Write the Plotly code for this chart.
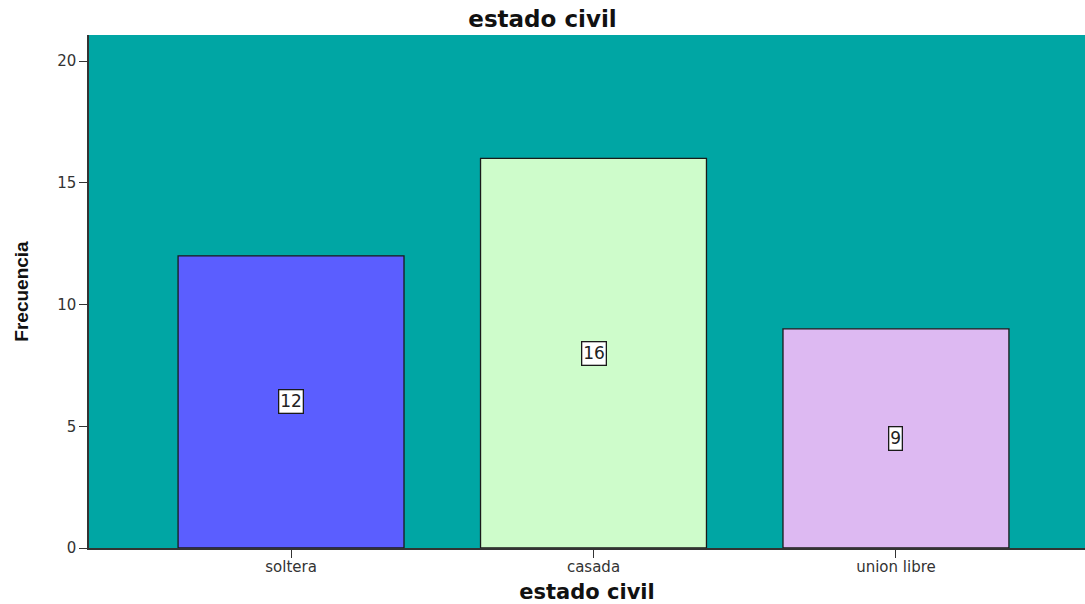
import plotly.graph_objects as go

categories = ["soltera", "casada", "union libre"]
counts = [12, 16, 9]
bar_colors = ["#5B5EFF", "#CEFCCB", "#DDB9F2"]
y_ticks = [0, 5, 10, 15, 20]

TICKFONT = dict(family="DejaVu Sans, Verdana, Arial", size=15, color="#333333")

fig = go.Figure()
fig.add_trace(go.Bar(
    x=categories, y=counts, width=0.747,
    marker=dict(color=bar_colors, line=dict(color="#1a1a1a", width=1.3)),
    hoverinfo="x+y", showlegend=False,
))

for c, v in zip(categories, counts):
    fig.add_annotation(
        x=c, y=v / 2, text=str(v), showarrow=False,
        font=dict(family="DejaVu Sans, Verdana, Arial", size=17, color="#222222"),
        bgcolor="white", bordercolor="#1a1a1a", borderwidth=1.3, borderpad=1,
    )

fig.update_layout(
    width=1085, height=604,
    margin=dict(l=89, r=0, t=35, b=56),
    paper_bgcolor="white", plot_bgcolor="#00A6A4",
    title=dict(text="<b>estado civil</b>", x=0.5, xanchor="center", y=1 - 19 / 604, yanchor="middle",
               font=dict(family="DejaVu Sans, Verdana, Arial", size=23, color="#111111")),
    xaxis=dict(
        range=[-0.668, 2.625], showline=True, linecolor="#333333", linewidth=1.5,
        ticks="outside", ticklen=8, tickcolor="#333333", tickwidth=1.3,
        tickfont=TICKFONT, ticklabelstandoff=-4, automargin=False,
        title=dict(text="<b>estado civil</b>", standoff=17,
                   font=dict(family="DejaVu Sans, Verdana, Arial", size=21, color="#111111")),
        showgrid=False,
    ),
    yaxis=dict(
        range=[0, 21.07], tickvals=y_ticks, showline=True, linecolor="#333333", linewidth=1.5,
        ticks="outside", ticklen=8, tickcolor="#333333", tickwidth=1.3,
        tickfont=TICKFONT, automargin=False,
        title=dict(text="<b>Frecuencia</b>", standoff=24,
                   font=dict(family="Liberation Sans, Arial", size=19, color="#111111")),
        showgrid=False, zeroline=False,
    ),
)

fig.write_html("out.html", config={"displayModeBar": False},
               post_script="document.body.style.margin='0';")
